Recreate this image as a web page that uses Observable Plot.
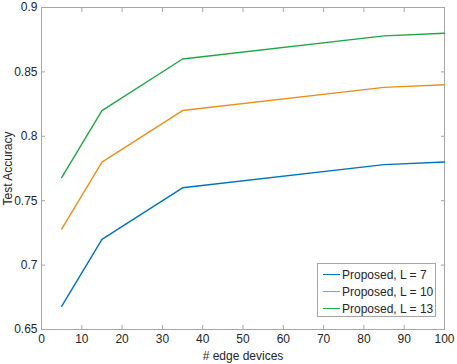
<!DOCTYPE html>
<html>
<head>
<meta charset="utf-8">
<script src="https://cdn.jsdelivr.net/npm/d3@7"></script>
<script src="https://cdn.jsdelivr.net/npm/@observablehq/plot@0.6"></script>
<style>
  html, body { margin: 0; padding: 0; background: #fff; }
  #wrap { position: relative; width: 457px; height: 364px; font-family: "Liberation Sans", Arial, sans-serif; }
  #legend { position: absolute; left: 317px; top: 263px; width: 119px; height: 54px; border: 1px solid #a6a6a6; background: #fff; box-sizing: border-box; font-size: 12px; color: #262626; padding-top: 2px; }
  .row { display: flex; align-items: center; height: 17px; }
  .sw { width: 17px; height: 0; border-top: 1.3px solid; margin-left: 5px; margin-right: 2px; }
</style>
</head>
<body>
<div id="wrap"><div id="legend"></div></div>
<script>
const devices = [5, 15, 35, 85, 100];
const accL7 = [0.668, 0.72, 0.76, 0.778, 0.78];
const accL10 = [0.728, 0.78, 0.82, 0.838, 0.84];
const accL13 = [0.768, 0.82, 0.86, 0.878, 0.88];
const seriesNames = ["Proposed, L = 7", "Proposed, L = 10", "Proposed, L = 13"];
const seriesColors = ["#0072BD", "#E8901C", "#1FA745"];
const xTicks = [0, 10, 20, 30, 40, 50, 60, 70, 80, 90, 100];
const yTicks = [0.65, 0.7, 0.75, 0.8, 0.85, 0.9];

const seriesValues = [accL7, accL10, accL13];
const rows = [];
seriesValues.forEach((vals, s) => vals.forEach((v, i) => rows.push({x: devices[i], y: v, series: seriesNames[s]})));

const axisColor = "#a6a6a6";
const textColor = "#262626";

const chart = Plot.plot({
  width: 457,
  height: 364,
  marginLeft: 41,
  marginRight: 13,
  marginTop: 7,
  marginBottom: 35,
  style: {fontFamily: "Liberation Sans, Arial, sans-serif", fontSize: "12px", color: textColor, background: "white"},
  x: {domain: [0, 100]},
  y: {domain: [0.65, 0.9]},
  color: {domain: seriesNames, range: seriesColors},
  marks: [
    Plot.frame({stroke: axisColor, strokeWidth: 1}),
    Plot.axisX({ticks: xTicks, anchor: "bottom", tickSize: -4, tickPadding: 9, stroke: axisColor, fill: textColor,
      label: "# edge devices", labelAnchor: "center", labelOffset: 30, labelArrow: "none", tickFormat: d => String(d)}),
    Plot.axisX({ticks: xTicks, anchor: "top", tickSize: -4, stroke: axisColor, tickFormat: () => "", label: null}),
    Plot.axisY({ticks: yTicks, anchor: "left", tickSize: -4, tickPadding: 8, stroke: axisColor, fill: textColor,
      label: "Test Accuracy", labelAnchor: "center", labelOffset: 38, labelArrow: "none", tickFormat: d => String(+d.toFixed(2))}),
    Plot.axisY({ticks: yTicks, anchor: "right", tickSize: -4, stroke: axisColor, tickFormat: () => "", label: null}),
    Plot.line(rows, {x: "x", y: "y", stroke: "series", strokeWidth: 1.4, z: "series"})
  ]
});
document.getElementById("wrap").prepend(chart);

const legend = document.getElementById("legend");
seriesNames.forEach((name, i) => {
  const r = document.createElement("div");
  r.className = "row";
  r.innerHTML = `<span class="sw" style="border-color:${seriesColors[i]}"></span><span>${name}</span>`;
  legend.appendChild(r);
});
</script>
</body>
</html>
